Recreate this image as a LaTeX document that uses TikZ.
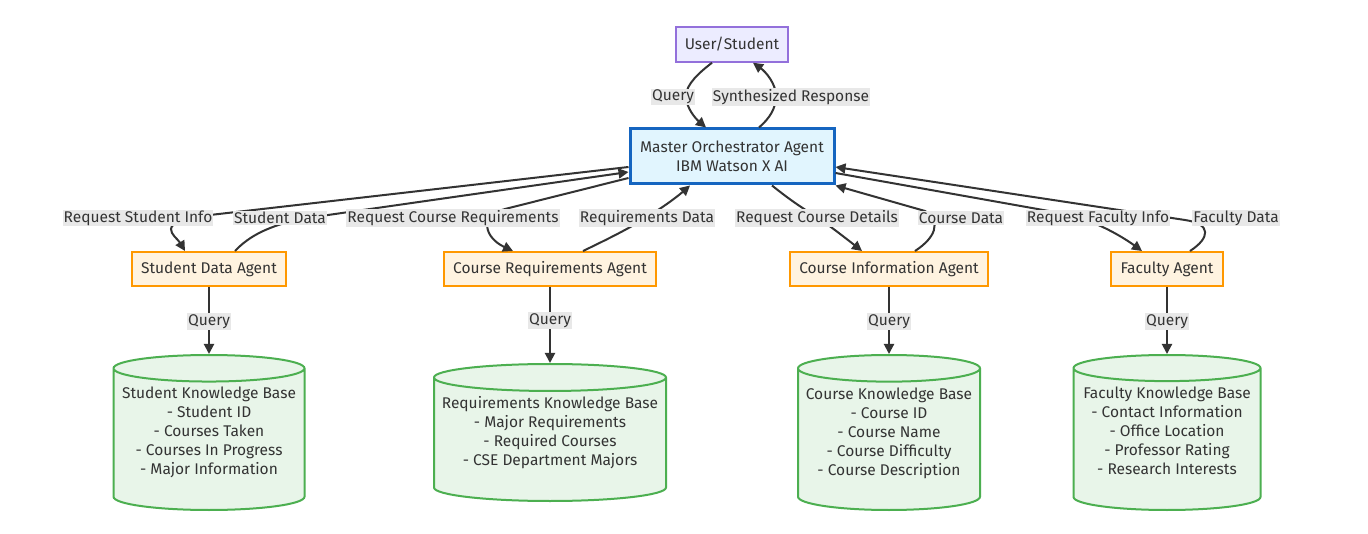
\documentclass[tikz,border=0pt]{standalone}
\usepackage{fontspec}
\setmainfont{Fira Sans}
\usepackage{xcolor}
\usetikzlibrary{positioning,shapes.geometric,arrows.meta}
\definecolor{edgeGray}{HTML}{333333}
\definecolor{labelGray}{HTML}{E8E8E8}
\definecolor{userFill}{HTML}{ECECFF}
\definecolor{userDraw}{HTML}{9370DB}
\definecolor{masterFill}{HTML}{E1F5FE}
\definecolor{masterDraw}{HTML}{1565C0}
\definecolor{agentFill}{HTML}{FFF3E0}
\definecolor{agentDraw}{HTML}{FF9800}
\definecolor{kbFill}{HTML}{E8F5E9}
\definecolor{kbDraw}{HTML}{4CAF50}
\tikzset{
  base_node/.style={font=\fontsize{15.5}{19}\selectfont, text=edgeGray, align=center},
  user_node/.style={base_node, rectangle, line width=1.5pt, draw=userDraw, fill=userFill, minimum height=35pt},
  master_node/.style={base_node, rectangle, line width=3pt, draw=masterDraw, fill=masterFill, minimum height=55pt},
  agent_node/.style={base_node, rectangle, line width=2pt, draw=agentDraw, fill=agentFill, minimum height=34pt},
  kb_node/.style={base_node, cylinder, shape border rotate=90, anchor=shape center, line width=2pt, draw=kbDraw, fill=kbFill, text depth=20.5pt},
  flow_edge/.style={line width=2pt, draw=edgeGray, -{Triangle[length=10pt,width=10pt]}},
  edge_label/.style={base_node, fill=labelGray, inner xsep=1pt, inner ysep=1pt}
}
\begin{document}
\begin{tikzpicture}[x=1pt, y=-1pt]
        \fill[white] (0,0) rectangle (1368,534);
        \useasboundingbox (0,0) rectangle (1368,534);
        \node[user_node, minimum width=112pt] (user) at (732,44.5) {User/Student};
        \node[master_node, minimum width=204pt] (master) at (732,156.5) {Master Orchestrator Agent\\IBM Watson X AI};
        \node[agent_node, minimum width=154pt] (student) at (209,269) {Student Data Agent};
        \node[agent_node, minimum width=212pt] (reqs) at (550,269) {Course Requirements Agent};
        \node[agent_node, minimum width=198pt] (course) at (889,269) {Course Information Agent};
        \node[agent_node, minimum width=112pt] (faculty) at (1167,269) {Faculty Agent};
        \node[kb_node, aspect=0.147, minimum width=191pt, minimum height=155pt] (studentkb) at (209,432.5) {Student Knowledge Base\\- Student ID\\- Courses Taken\\- Courses In Progress\\- Major Information};
        \node[kb_node, aspect=0.121, minimum width=232pt, minimum height=137pt] (reqskb) at (550,432.5) {Requirements Knowledge Base\\- Major Requirements\\- Required Courses\\- CSE Department Majors};
        \node[kb_node, aspect=0.154, minimum width=182pt, minimum height=155pt] (coursekb) at (889,432.5) {Course Knowledge Base\\- Course ID\\- Course Name\\- Course Difficulty\\- Course Description};
        \node[kb_node, aspect=0.150, minimum width=187pt, minimum height=155pt] (facultykb) at (1167,432.5) {Faculty Knowledge Base\\- Contact Information\\- Office Location\\- Professor Rating\\- Research Interests};
        \draw[flow_edge] ([xshift=-20pt]user.south) .. controls (700,72) and (686,84) .. (686,96) .. controls (686,108) and (696,119) .. ([xshift=-26pt]master.north) node[edge_label] (lquery) at (673,97) {Query};
        \draw[flow_edge] ([xshift=27pt]master.north) .. controls (770,118) and (776,108) .. (776,96) .. controls (776,84) and (766,72) .. ([xshift=21pt]user.south) node[edge_label] (lsynth) at (791,97) {Synthesized Response};
        \draw[flow_edge] ([yshift=-10.5pt]master.west) -- (210,215) .. controls (150,222) and (176,236) .. ([xshift=-24pt]student.north) node[edge_label] (lrsi) at (138,218) {Request Student Info};
        \draw[flow_edge] ([xshift=26pt]student.north) .. controls (250,235) and (270,226) .. (300,219) -- ([yshift=-15.5pt]master.west) node[edge_label] (lsd) at (280,218) {Student Data};
        \draw[flow_edge] ([yshift=-21.5pt]master.west) -- (505,209) .. controls (478,216) and (485,238) .. ([xshift=-37pt]reqs.north) node[edge_label] (lrcr) at (453,218) {Request Course Requirements};
        \draw[flow_edge] ([xshift=33pt]reqs.north) .. controls (610,238) and (630,228) .. (647,217) .. controls (665,206) and (678,196) .. ([xshift=-42pt]master.south) node[edge_label] (lrd) at (647,218) {Requirements Data};
        \draw[flow_edge] ([xshift=40pt]master.south) .. controls (790,200) and (805,210) .. (817,217) .. controls (830,226) and (848,240) .. ([xshift=-27pt]course.north) node[edge_label] (lrcd) at (817,218) {Request Course Details};
        \draw[flow_edge] ([xshift=26pt]course.north) .. controls (935,238) and (942,222) .. (925,211) -- (master.south east) node[edge_label] (lcd) at (961,218) {Course Data};
        \draw[flow_edge] ([xshift=23pt]faculty.north) .. controls (1210,238) and (1212,224) .. (1185,220) -- ([yshift=-10.5pt]master.east) node[edge_label] (lfd) at (1236,218) {Faculty Data};
        \draw[flow_edge] ([yshift=-16.5pt]master.east) -- (1060,213) .. controls (1090,218) and (1120,235) .. ([xshift=-25pt]faculty.north) node[edge_label] (lrfi) at (1098,218) {Request Faculty Info};
        \draw[flow_edge] (student.south) -- (studentkb.north) node[edge_label, midway, yshift=-1pt] (lq1) {Query};
        \draw[flow_edge] (reqs.south) -- (reqskb.north) node[edge_label, pos=0.44] (lq2) {Query};
        \draw[flow_edge] (course.south) -- (coursekb.north) node[edge_label, midway, yshift=-1pt] (lq3) {Query};
        \draw[flow_edge] (faculty.south) -- (facultykb.north) node[edge_label, midway, yshift=-1pt] (lq4) {Query};
    \end{tikzpicture}
\end{document}
